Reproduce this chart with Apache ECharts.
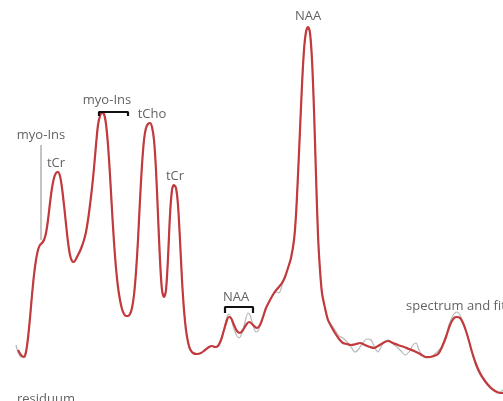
<!DOCTYPE html>
<html><head><meta charset="utf-8">
<script src="https://cdn.jsdelivr.net/npm/echarts@6/dist/echarts.min.js"></script>
<style>html,body{margin:0;padding:0;background:#fff}#c{width:503px;height:401px}</style>
</head><body><div id="c"></div>
<script>
// Fit (red) curve: chemical-shift position index and amplitude
var fitX = [18,21,24,26,28,30,32,34,36,38,40,42,44,46,48,50,52,54,56,58,60,62,64,66,68,70,72,74,76,78,80,82,84,86,88,90,92,94,96,98,100,102,104,106,108,110,112,114,116,118,120,122,124,126,128,130,132,134,136,138,140,142,144,146,148,150,152,154,156,158,160,162,164,166,168,170,172,174,176,178,180,182,184,186,188,190,193,197,201,205,209,212,215,218,221,224,227,229,231,234,237,240,243,246,249,251,254,257,260,263,266,270,274,278,282,285,288,291,294,296,298,300,302,304,306,308,310,312,314,316,318,320,322,325,328,331,335,339,343,347,351,356,360,365,370,374,378,383,388,393,398,404,409,414,420,426,430,434,438,442,446,450,454,457,460,463,466,469,472,476,480,485,490,495,500,503];
var fitY = [51,46,44,49,63,83,106,126,141,151,156,158,161,168,181,198,213,223,228,229,225,213,196,177,159,146,140,139,142,146,150,155,161,169,181,196,213,233,256,276,285,288,287,277,256,226,191,159,133,114,101,92,87,85,85,87,93,106,129,161,201,236,261,273,277,278,274,261,231,186,141,111,104,111,143,186,211,216,213,196,161,121,91,71,59,52,48,47,48,51,54,55,54,55,61,71,81,84,83,76,70,68,71,76,79,78,75,73,76,84,93,101,108,113,118,124,133,143,161,186,226,271,316,351,369,374,368,341,291,226,166,131,108,93,81,75,68,62,58,57,56,57,58,56,54,53,55,58,60,58,56,54,52,50,47,44,44,45,47,54,64,76,83,84,83,78,70,60,49,37,28,20,14,10,8,8];
// Measured spectrum (gray)
var specX = [16,18,21,24,26,28,30,32,34,36,38,40,42,44,46,48,50,52,54,56,58,60,62,64,66,68,70,72,74,76,78,80,82,84,86,88,90,92,94,96,98,100,102,104,106,108,110,112,114,116,118,120,122,124,126,128,130,132,134,136,138,140,142,144,146,148,150,152,154,156,158,160,162,164,166,168,170,172,174,176,178,180,182,184,186,188,190,193,197,201,205,209,212,215,218,221,224,227,229,231,234,237,239,242,245,248,250,253,256,258,261,264,267,270,274,277,279,281,283,285,288,291,294,296,298,300,302,304,306,308,310,312,314,316,318,320,322,325,328,331,335,339,343,347,351,355,358,362,367,371,375,378,381,385,389,393,397,401,405,409,413,416,419,423,427,432,436,440,442,446,450,454,457,460,463,466,469,472,476,480,485,490,495,500,503];
var specY = [56,49,44,45,50,63,83,106,126,141,151,156,158,161,168,181,198,213,223,228,229,225,213,196,177,159,146,140,139,142,146,150,155,161,169,181,196,213,233,256,276,285,288,287,277,256,226,191,159,133,114,101,92,87,85,85,87,93,106,129,161,201,236,261,273,277,278,274,261,231,186,141,111,104,111,143,186,211,216,213,196,161,121,91,71,59,52,48,47,48,51,54,55,54,55,61,72,84,87,83,72,65,63,68,79,88,86,76,69,70,78,87,95,101,107,109,108,112,119,124,133,143,161,186,226,271,316,351,369,374,368,341,291,226,166,131,108,93,81,77,71,65,63,59,54,49,51,57,62,61,53,49,54,60,61,57,54,50,46,49,56,58,51,45,43,45,48,52,55,66,79,87,89,86,79,70,60,48,35,26,19,13,10,9,11];
// Peak annotations
var labelTexts = ["myo-Ins","tCr","myo-Ins","tCho","tCr","NAA","NAA","spectrum and fit","residuum"];
var labelX = [41,56,107,152,175,236,308,406,17];
var labelY = [266,238,301,287,225,104,385,95,2];
var labelAlign = ["center","center","center","center","center","center","center","left","left"];
// Marker line and brackets (data coordinates)
var markerLine = [[41,161],[41,256]];
var bracketMyo = [[99,285],[99,289],[128,289],[128,285]];
var bracketNAA = [[225,88],[225,94],[253,94],[253,88]];

function zip(a,b){return a.map(function(v,i){return [v,b[i]];});}
var chart = echarts.init(document.getElementById('c'));
var FONT = '"Open Sans", "Noto Sans", sans-serif';
chart.setOption({
  animation:false,
  grid:{left:0,right:0,top:0,bottom:0},
  xAxis:{type:'value',min:0,max:503,show:false},
  yAxis:{type:'value',min:0,max:401,show:false},
  series:[
    {type:'line',data:zip(specX,specY),smooth:0.3,symbol:'none',lineStyle:{color:'#b8b8b8',width:1.2},z:2},
    {type:'line',data:zip(fitX,fitY),smooth:0.3,symbol:'none',lineStyle:{color:'#c23a3c',width:2.2},z:3},
    {type:'line',data:markerLine,symbol:'none',lineStyle:{color:'#8a8a8a',width:1},z:4},
    {type:'line',data:bracketMyo,symbol:'none',lineStyle:{color:'#111',width:2.2},z:4},
    {type:'line',data:bracketNAA,symbol:'none',lineStyle:{color:'#111',width:2.2},z:4},
    {type:'scatter',symbolSize:0,z:5,
     data:labelTexts.map(function(t,i){return {name:t,value:[labelX[i],labelY[i]],label:{align:labelAlign[i]}};}),
     label:{show:true,position:'inside',formatter:'{b}',color:'#3a3a3a',fontSize:13,fontFamily:FONT}}
  ]
});
</script></body></html>
